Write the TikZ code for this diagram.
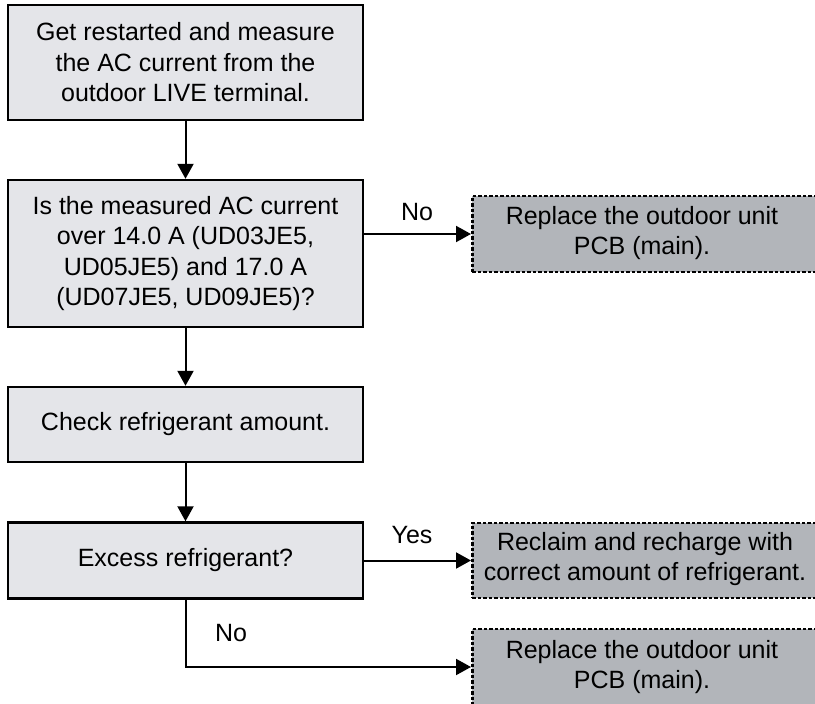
\documentclass[tikz,border=0pt]{standalone}
\usepackage{fontspec}
\setmainfont{Liberation Sans}
\usetikzlibrary{arrows.meta}
\definecolor{boxfill}{HTML}{E4E5E9}
\definecolor{grayfill}{HTML}{B2B5BA}
\tikzset{
  stepbox/.style={draw=black, line width=2.4pt, fill=boxfill, minimum width=355pt, inner sep=0pt,
    align=center, font=\fontsize{25pt}{30.5pt}\selectfont},
  resultbox/.style={draw=black, line width=2.6pt, dash pattern=on 3.5pt off 2pt, fill=grayfill,
    minimum width=360pt, inner sep=0pt},
  resulttext/.style={align=center, inner sep=0pt, font=\fontsize{25pt}{29.5pt}\selectfont},
  lbl/.style={inner sep=0pt, font=\fontsize{25pt}{30pt}\selectfont},
  conn/.style={line width=2pt, -{Triangle[length=15pt, width=16pt]}},
}
\begin{document}
\begin{tikzpicture}[x=1pt, y=-1pt]
\useasboundingbox (0,0) rectangle (815,704);
\clip (0,0) rectangle (815,704);
\node[stepbox, minimum height=115pt] (s1) at (185.5,62.5)
  {Get restarted and measure\\the AC current from the\\outdoor LIVE terminal.};
\node[stepbox, minimum height=147pt] (s2) at (185.5,253.5)
  {Is the measured AC current\\over 14.0 A (UD03JE5,\\UD05JE5) and 17.0 A\\(UD07JE5, UD09JE5)?};
\node[stepbox, minimum height=75pt] (s3) at (185.5,424.5) {Check refrigerant amount.};
\node[stepbox, minimum height=76pt] (s4) at (185.5,560.5) {Excess refrigerant?};

\node[resultbox, minimum height=76pt, anchor=west] (r1) at (471,234) {};
\node[resulttext] (t1) at (642,233) {Replace the outdoor unit\\PCB (main).};
\node[resultbox, minimum height=75pt, anchor=west] (r2) at (471,560.5) {};
\node[resulttext] (t2) at (645,559) {Reclaim and recharge with\\correct amount of refrigerant.};
\node[resultbox, minimum height=76pt, anchor=west] (r3) at (471,667) {};
\node[resulttext] (t3) at (642,667) {Replace the outdoor unit\\PCB (main).};

\draw[conn] (s1) -- (s2);
\draw[conn] (s2) -- (s3);
\draw[conn] (s3) -- (s4);
\draw[conn] (s2.east |- r1.west) -- (r1.west);
\draw[conn] (s4.east |- r2.west) -- (r2.west);
\coordinate (c1) at (s4.south |- r3.west);
\draw[conn] (s4.south) -- (c1) -- (r3.west);

\node[lbl] (no1) at (417,212) {No};
\node[lbl] (yes) at (412,535) {Yes};
\node[lbl] (no2) at (231,633) {No};
\end{tikzpicture}
\end{document}
